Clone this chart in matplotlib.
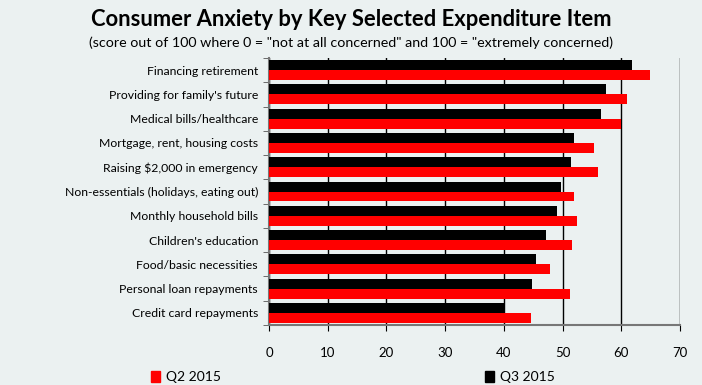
import numpy as np
import matplotlib.pyplot as plt
from matplotlib.patches import Patch

plt.rcParams['font.family'] = ['Lato', 'DejaVu Sans']

# data
items = ['Financing retirement', "Providing for family's future", 'Medical bills/healthcare',
         'Mortgage, rent, housing costs', 'Raising $2,000 in emergency',
         'Non-essentials (holidays, eating out)', 'Monthly household bills',
         "Children's education", 'Food/basic necessities', 'Personal loan repayments',
         'Credit card repayments']
q3_2015 = [61.8, 57.4, 56.5, 51.9, 51.4, 49.7, 49.0, 47.2, 45.5, 44.8, 40.2]
q2_2015 = [64.9, 61.0, 60.0, 55.4, 56.0, 51.9, 52.5, 51.6, 47.8, 51.3, 44.6]

bg = '#ebf1f1'
fig = plt.figure(figsize=(7.02, 3.85), dpi=100, facecolor=bg)
ax = fig.add_axes([269 / 702, 1 - 325 / 385, (680 - 269) / 702, (325 - 58) / 385])
ax.set_facecolor(bg)

y = np.arange(len(items))
h = 0.41
ax.barh(y - h / 2, q3_2015, height=h, color='black', zorder=3)
ax.barh(y + h / 2, q2_2015, height=h, color='#ff0000', zorder=3)

ax.set_xlim(0, 70)
ax.set_ylim(len(items) - 0.5, -0.5)
ax.set_xticks(range(0, 71, 10))
ax.set_yticks(y)
ax.set_yticklabels(items, fontsize=8.8)
ax.set_yticks(np.arange(-0.5, len(items), 1), minor=True)
ax.tick_params(axis='y', which='major', length=0, pad=8)
ax.tick_params(axis='y', which='minor', length=4, color='#555555')
ax.tick_params(axis='x', length=4, labelsize=9.5, pad=12)
ax.grid(axis='x', color='black', linewidth=1, zorder=1)

for s in ['top', 'right']:
    ax.spines[s].set_visible(False)
for s in ['left', 'bottom']:
    ax.spines[s].set_color('#777777')
    ax.spines[s].set_linewidth(1.5)

fig.text(0.5, 1 - 20 / 385, 'Consumer Anxiety by Key Selected Expenditure Item',
         ha='center', va='center', fontsize=15.8, fontweight='bold')
fig.text(0.5, 1 - 43 / 385,
         '(score out of 100 where 0 = "not at all concerned" and 100 = "extremely concerned)',
         ha='center', va='center', fontsize=10.3)

handles = [Patch(color='#ff0000'), Patch(color='black')]
fig.legend(handles, ['Q2 2015', 'Q3 2015'], ncol=2, frameon=False, fontsize=10,
           loc='center left', bbox_to_anchor=(138 / 702, 1 - 377 / 385),
           handlelength=0.7, handleheight=0.9, handletextpad=0.4, columnspacing=19)

fig.savefig('out.png', dpi=100, facecolor=bg)
